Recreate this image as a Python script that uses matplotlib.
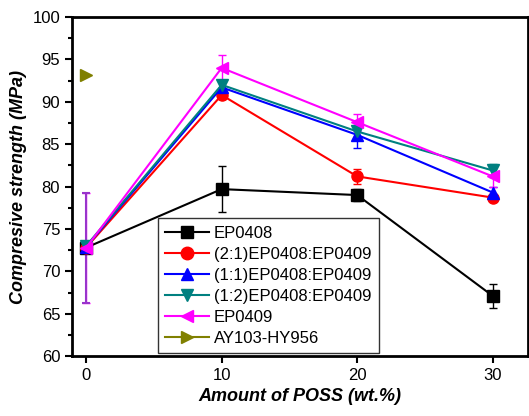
import numpy as np
import matplotlib.pyplot as plt
from matplotlib.lines import Line2D
from matplotlib.ticker import MultipleLocator

plt.rcParams['font.family'] = ['Liberation Sans', 'DejaVu Sans']

poss = [0, 10, 20, 30]

ep0408 = [72.8, 79.7, 79.0, 67.1]
ep0408_err = [0.3, 2.7, 0.7, 1.4]
r21 = [72.8, 90.8, 81.2, 78.7]
r21_err = [0.3, 0.5, 0.9, 0.3]
r11 = [72.9, 91.7, 86.1, 79.3]
r11_err = [0.3, 0.6, 1.5, 0.6]
r12 = [73.0, 92.0, 86.5, 81.9]
r12_err = [0.3, 0.5, 1.0, 0.8]
ep0409 = [72.8, 94.0, 87.6, 81.2]
ep0409_err = [6.5, 1.5, 1.0, 1.2]
ay_x = [0]
ay = [93.2]

labels = ['EP0408', '(2:1)EP0408:EP0409', '(1:1)EP0408:EP0409',
          '(1:2)EP0408:EP0409', 'EP0409', 'AY103-HY956']

fig = plt.figure(figsize=(5.29, 4.16), dpi=100)
ax = fig.add_axes([0.136, 0.144, 0.862, 0.815])

series = [
    (ep0408, ep0408_err, 'black', 's'),
    (r21, r21_err, 'red', 'o'),
    (r11, r11_err, 'blue', '^'),
    (r12, r12_err, '#008080', 'v'),
    (ep0409, ep0409_err, 'magenta', '<'),
]
handles = []
for vals, err, c, m in series:
    ax.errorbar(poss, vals, yerr=err, color=c, marker=m, markersize=8,
                linewidth=1.5, elinewidth=1, capsize=3, capthick=1)
    handles.append(Line2D([], [], color=c, marker=m, markersize=9, linewidth=1.5))
# purple error bar at 0 wt.%
ax.errorbar([0], [ep0409[0]], yerr=[ep0409_err[0]], fmt='none',
            ecolor='#9933CC', elinewidth=1.5, capsize=3, capthick=1.5)
ax.plot(ay_x, ay, linestyle='none', color='#808000', marker='>', markersize=8)
handles.append(Line2D([], [], color='#808000', marker='>', markersize=9, linewidth=1.5))

ax.set_xlim(-1.05, 32.6)
ax.set_ylim(60, 100)
ax.set_xticks(poss)
ax.yaxis.set_major_locator(MultipleLocator(5))
ax.yaxis.set_minor_locator(MultipleLocator(2.5))
ax.tick_params(axis='both', which='major', direction='out', length=5, width=1.5, labelsize=12)
ax.tick_params(axis='y', which='minor', direction='out', length=3, width=1.5)
ax.tick_params(axis='y', which='both', right=True)
for sp in ax.spines.values():
    sp.set_linewidth(2)

ax.set_xlabel('Amount of POSS (wt.%)', fontsize=13, fontweight='bold', style='italic')
ax.set_ylabel('Compresive strength (MPa)', fontsize=13, fontweight='bold', style='italic')

leg = ax.legend(handles, labels, loc='lower left', bbox_to_anchor=(0.188, 0.008),
                fontsize=12, frameon=True, fancybox=False, edgecolor='black',
                handlelength=2.6, labelspacing=0.36, borderpad=0.45,
                handletextpad=0.3, borderaxespad=0)
leg.get_frame().set_linewidth(1)

fig.savefig('out.png', dpi=100, facecolor='white')
plt.close(fig)
